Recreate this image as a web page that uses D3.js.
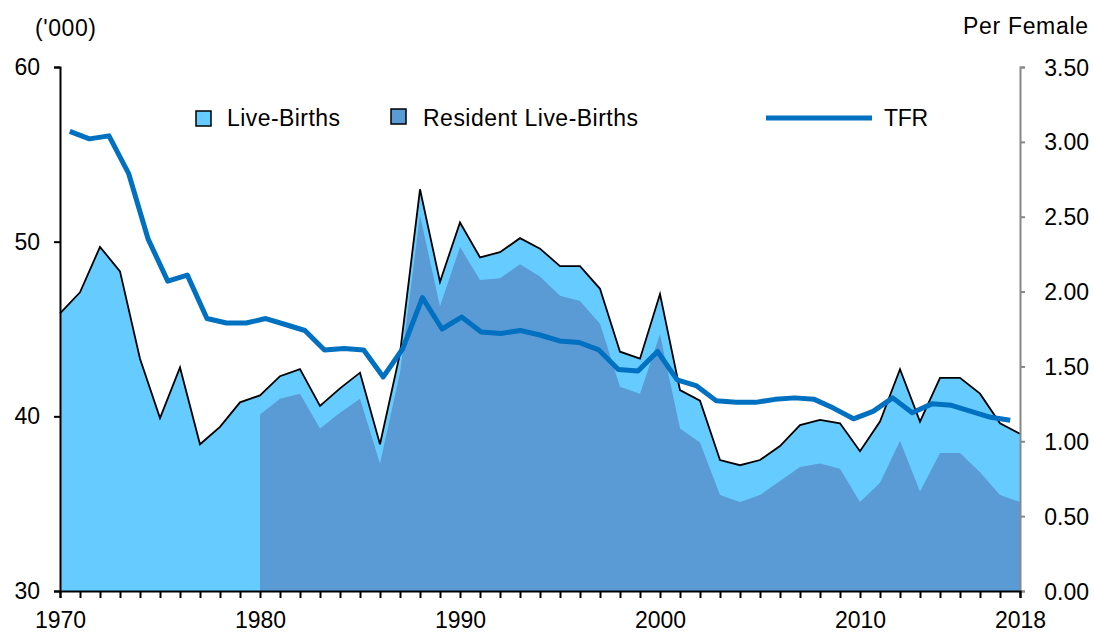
<!DOCTYPE html>
<html>
<head>
<meta charset="utf-8">
<script src="https://cdn.jsdelivr.net/npm/d3@7"></script>
<style>
  body { margin: 0; background: #fff; }
  text { font-family: "Liberation Sans", Arial, sans-serif; fill: #000; }
</style>
</head>
<body>
<div id="chart"></div>
<script>
// Chart data
var years = d3.range(1970, 2019);

var liveBirths = [
  45.9, 47.1, 49.7, 48.3, 43.3, 39.9, 42.8, 38.4, 39.4, 40.8,
  41.2, 42.3, 42.7, 40.6, 41.6, 42.5, 38.4, 43.6, 53.0, 47.7,
  51.1, 49.1, 49.4, 50.2, 49.6, 48.6, 48.6, 47.3, 43.7, 43.3,
  47.0, 41.5, 40.9, 37.5, 37.2, 37.5, 38.3, 39.5, 39.8, 39.6,
  38.0, 39.7, 42.7, 39.7, 42.2, 42.2, 41.3, 39.6, 39.0
];

// resident live-births start in 1980
var residentYears = d3.range(1980, 2019);
var residentBirths = [
  40.1, 41.0, 41.3, 39.3, 40.2, 41.0, 37.3, 42.5, 51.5, 46.3,
  49.7, 47.8, 47.9, 48.7, 48.0, 46.9, 46.6, 45.3, 41.7, 41.3,
  44.7, 39.3, 38.5, 35.5, 35.1, 35.5, 36.3, 37.1, 37.3, 37.0,
  35.1, 36.2, 38.6, 35.7, 37.9, 37.9, 36.8, 35.5, 35.1
];

var tfr = [
  3.07, 3.02, 3.04, 2.79, 2.35, 2.07, 2.11, 1.82, 1.79, 1.79,
  1.82, 1.78, 1.74, 1.61, 1.62, 1.61, 1.43, 1.62, 1.96, 1.75,
  1.83, 1.73, 1.72, 1.74, 1.71, 1.67, 1.66, 1.61, 1.48, 1.47,
  1.60, 1.41, 1.37, 1.27, 1.26, 1.26, 1.28, 1.29, 1.28, 1.22,
  1.15, 1.20, 1.29, 1.19, 1.25, 1.24, 1.20, 1.16, 1.14
];

var leftTicks = [30, 40, 50, 60];
var rightTicks = [0, 0.5, 1, 1.5, 2, 2.5, 3, 3.5];
var yearLabels = [1970, 1980, 1990, 2000, 2010, 2018];

// Define SVG area dimensions
var svgWidth = 1094;
var svgHeight = 632;
var fontSize = "23px";

var chartMargin = { top: 67, right: 74, bottom: 41, left: 60 };
var chartWidth = svgWidth - chartMargin.left - chartMargin.right;
var chartHeight = svgHeight - chartMargin.top - chartMargin.bottom;

var svg = d3.select("#chart")
  .append("svg")
  .attr("width", svgWidth)
  .attr("height", svgHeight);

var chartGroup = svg.append("g")
  .attr("transform", `translate(${chartMargin.left}, ${chartMargin.top})`);

// Areas sit on the tick marks, the TFR line sits in the middle of each year slot
var xScale = d3.scaleLinear()
  .domain([1970, 2018])
  .range([0, chartWidth]);

var xBand = d3.scaleBand()
  .domain(years)
  .range([0, chartWidth]);

var yLeft = d3.scaleLinear()
  .domain([30, 60])
  .range([chartHeight, 0]);

var yRight = d3.scaleLinear()
  .domain([0, 3.5])
  .range([chartHeight, 0]);

// Live-births area
var totalArea = d3.area()
  .x((d, i) => xScale(years[i]))
  .y0(chartHeight)
  .y1(d => yLeft(d));

chartGroup.append("path")
  .datum(liveBirths)
  .attr("d", totalArea)
  .attr("fill", "#66ccff");

// Resident live-births area
var residentArea = d3.area()
  .x((d, i) => xScale(residentYears[i]))
  .y0(chartHeight)
  .y1(d => yLeft(d));

chartGroup.append("path")
  .datum(residentBirths)
  .attr("d", residentArea)
  .attr("fill", "#5b9bd5");

// black outline on top of the live-births area
var totalLine = d3.line()
  .x((d, i) => xScale(years[i]))
  .y(d => yLeft(d));

chartGroup.append("path")
  .datum(liveBirths)
  .attr("d", totalLine)
  .attr("fill", "none")
  .attr("stroke", "#000")
  .attr("stroke-width", 1.8)
  .attr("stroke-linejoin", "miter");

// TFR line
var tfrLine = d3.line()
  .x((d, i) => xBand(years[i]) + xBand.bandwidth() / 2)
  .y(d => yRight(d));

chartGroup.append("path")
  .datum(tfr)
  .attr("d", tfrLine)
  .attr("fill", "none")
  .attr("stroke", "#0070c0")
  .attr("stroke-width", 5)
  .attr("stroke-linejoin", "round");

// Axes
var bottomAxis = d3.axisBottom(xScale)
  .tickValues(years)
  .tickSize(7)
  .tickFormat(d => yearLabels.includes(d) ? d : "");

var leftAxis = d3.axisLeft(yLeft)
  .tickValues(leftTicks)
  .tickSize(6)
  .tickPadding(14);

var rightAxis = d3.axisRight(yRight)
  .tickValues(rightTicks)
  .tickSize(5)
  .tickFormat(d3.format(".2f"));

var rightG = chartGroup.append("g")
  .attr("transform", `translate(${chartWidth}, 0)`)
  .call(rightAxis);

rightG.select(".domain").attr("stroke", "#888").attr("stroke-width", 2);
rightG.selectAll(".tick line").attr("stroke", "#888").attr("stroke-width", 2);
rightG.selectAll(".tick text")
  .attr("text-anchor", "end")
  .attr("x", 69)
  .attr("dy", "0.35em");

var bottomG = chartGroup.append("g")
  .attr("transform", `translate(0, ${chartHeight})`)
  .call(bottomAxis);

bottomG.select(".domain").attr("stroke-width", 2);
bottomG.selectAll(".tick line").attr("stroke-width", 2);
bottomG.selectAll(".tick text").attr("dy", 0).attr("y", 37);

var leftG = chartGroup.append("g")
  .call(leftAxis);

leftG.select(".domain").attr("stroke-width", 2);
leftG.selectAll(".tick line").attr("stroke-width", 2);

svg.selectAll(".tick text")
  .style("font-size", fontSize)
  .style("font-family", "'Liberation Sans', Arial, sans-serif");

// Axis unit labels
svg.append("text")
  .attr("x", 35)
  .attr("y", 36)
  .attr("textLength", 61)
  .style("font-size", fontSize)
  .text("('000)");

svg.append("text")
  .attr("x", 963)
  .attr("y", 34)
  .attr("textLength", 125)
  .style("font-size", fontSize)
  .text("Per Female");

// Legend
var legend = svg.append("g");

legend.append("rect")
  .attr("x", 196).attr("y", 111)
  .attr("width", 15).attr("height", 15)
  .attr("fill", "#66ccff")
  .attr("stroke", "#000")
  .attr("stroke-width", 1.5);

legend.append("text")
  .attr("x", 227).attr("y", 126)
  .attr("textLength", 113)
  .style("font-size", fontSize)
  .text("Live-Births");

legend.append("rect")
  .attr("x", 391).attr("y", 109)
  .attr("width", 15).attr("height", 15)
  .attr("fill", "#5b9bd5")
  .attr("stroke", "#000")
  .attr("stroke-width", 1.5);

legend.append("text")
  .attr("x", 423).attr("y", 126)
  .attr("textLength", 215)
  .style("font-size", fontSize)
  .text("Resident Live-Births");

legend.append("line")
  .attr("x1", 766).attr("x2", 872)
  .attr("y1", 118).attr("y2", 118)
  .attr("stroke", "#0070c0")
  .attr("stroke-width", 5);

legend.append("text")
  .attr("x", 884).attr("y", 126)
  .attr("textLength", 44)
  .style("font-size", fontSize)
  .text("TFR");
</script>
</body>
</html>
